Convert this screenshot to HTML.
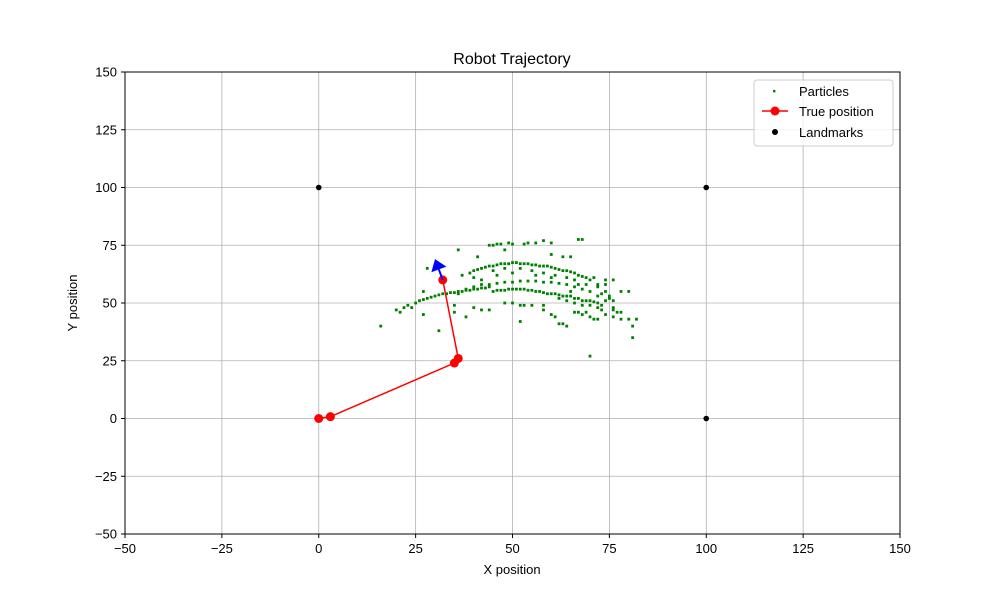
<!DOCTYPE html>
<html><head><meta charset="utf-8"><style>
body{margin:0;background:#fff}
svg{font-family:"Liberation Sans","DejaVu Sans",sans-serif}
</style></head><body>
<svg id="chart" width="1000" height="600" xmlns="http://www.w3.org/2000/svg">
<rect width="1000" height="600" fill="#fff"/>
<text x="512" y="64" text-anchor="middle" font-size="16">Robot Trajectory</text>
<g id="grid"></g>
<g id="marks"></g>
<rect x="125" y="72" width="775" height="462" fill="none" stroke="#000" stroke-width="1"/>
<g id="ticks" font-size="13"></g>
<text x="512" y="574" text-anchor="middle" font-size="13">X position</text>
<text x="77" y="303" text-anchor="middle" font-size="13" transform="rotate(-90 77 303)">Y position</text>
<g>
<rect x="754" y="80" width="139" height="66" rx="3" fill="#fff" fill-opacity="0.8" stroke="#ccc"/>
<g><rect x="773" y="90" width="2.4" height="2.4" fill="#008000"/><text x="799" y="96" font-size="13">Particles</text></g>
<g><line x1="762" y1="111" x2="788" y2="111" stroke="#f00" stroke-width="1.5"/><circle cx="775" cy="111" r="4.5" fill="#f00"/><text x="799" y="116" font-size="13">True position</text></g>
<g><circle cx="775" cy="132" r="3" fill="#000"/><text x="799" y="137" font-size="13">Landmarks</text></g>
</g>
</svg>
<script>
const xTicks=[-50,-25,0,25,50,75,100,125,150];
const yTicks=[-50,-25,0,25,50,75,100,125,150];
const trueX=[0,3,35,36,32];
const trueY=[0,0.8,24,26,60];
const headingStart=[32,60];
const headingEnd=[30,69];
const landmarkX=[0,100,100];
const landmarkY=[100,100,0];
const particleX=[16,21,22,23,25,26,27,28,29,30,31,32,33,34,35,36,37,38,39,40,41,42,43,44,45,46,47,48,49,50,51,52,53,54,55,56,57,58,59,60,61,62,63,64,65,66,67,68,69,70,71,72,73,
36,38,40,42,44,46,48,50,52,54,56,58,60,62,64,66,68,70,72,74,76,77,78,
37,39,40,41,42,43,44,45,46,47,48,49,50,51,52,53,54,55,56,57,58,59,60,61,62,63,64,65,66,67,68,69,70,72,74,75,76,
45,48,52,55,58,61,64,66,50,46,42,40,56,60,
44,45,46,47,49,50,53,54,56,58,60,67,68,36,41,48,60,63,65,
27,31,38,40,42,44,48,50,52,53,55,58,60,61,62,63,64,66,67,68,70,71,72,74,76,78,80,81,82,81,70,52,58,69,73,76,35,35,20,24,28,27,62,64,66,68,70,72,75,78,80,72,74,76,74,71,69,67,65,73];
const particleY=[40,46,48,49,50,51,51.5,52,52.5,53,53.5,54,54,54.5,54.5,55,55,55.5,55.5,56,56,56.5,56.5,57,55,55.5,55.5,55.5,56,56,56,56,56,55.5,55.5,55,55,54.5,54,54,54,53.5,53,53,53,52,52,51,51,51,50.5,50,49,
54,56,57,58,58,58.5,59,59,59.5,59.5,59.5,59,59,58.5,58,57,56,55,53,51,48,46,46,
62,63,64,64.5,65,65.5,66,66,66.5,67,67,67,67.5,67.5,67,67,67,66.5,66.5,66,66,66,65.5,65,64.5,64,64,63.5,63,62,61.5,61,60,58,55,53,51,
64,65,65,64,63,62,61,60,63,62,60,61,62,61,
75,75,75.5,75.5,76,75.5,75.5,76,76,77,76,77.5,77.5,73,70,73,71,70,70,
45,38,44,48,47,47,50,50,49,49,49,47,45,44,41,41,40,46,46,45,44,43,43,45,44,43,43,40,43,35,27,42,49,46,47,47,49,46,47,48,65,55,52,51,50,49,49,48,52,55,55,57,58,60,60,61,58,58,55,54];

const NS="http://www.w3.org/2000/svg";
function sx(v){return 125+(v+50)*775/200;}
function sy(v){return 534-(v+50)*462/200;}
function fmt(v){return v<0?'\u2212'+Math.abs(v):String(v);}
function mk(t,a,p){const e=document.createElementNS(NS,t);for(const k in a)e.setAttribute(k,a[k]);p.appendChild(e);return e;}
const grid=document.getElementById('grid'),ticks=document.getElementById('ticks'),marks=document.getElementById('marks');
xTicks.forEach(v=>{
 const l=mk('line',{x1:sx(v),x2:sx(v),y1:72,y2:534,stroke:'#b0b0b0','stroke-width':0.8},grid);
 
 
 mk('line',{x1:sx(v),x2:sx(v),y1:534,y2:538,stroke:'#000'},ticks);
 const t=mk('text',{x:sx(v),y:553,'text-anchor':'middle'},ticks);t.textContent=fmt(v);
 
 
});
yTicks.forEach(v=>{
 const l=mk('line',{x1:125,x2:900,y1:sy(v),y2:sy(v),stroke:'#b0b0b0','stroke-width':0.8},grid);
 
 
 mk('line',{x1:121,x2:125,y1:sy(v),y2:sy(v),stroke:'#000'},ticks);
 const t=mk('text',{x:117,y:sy(v)+4.5,'text-anchor':'end'},ticks);t.textContent=fmt(v);
 
 
});
particleX.forEach((x,i)=>{
 const r=mk('rect',{x:sx(x)-1.4,y:sy(particleY[i])-1.4,width:2.8,height:2.8,fill:'#008000'},marks);
 
 
});
const pts=trueX.map((x,i)=>sx(x)+','+sy(trueY[i])).join(' ');
const pl=mk('polyline',{points:pts,fill:'none',stroke:'#f00','stroke-width':1.5},marks);


trueX.forEach((x,i)=>{
 const c=mk('circle',{cx:sx(x),cy:sy(trueY[i]),r:4.5,fill:'#f00'},marks);
 
 
});
landmarkX.forEach((x,i)=>{
 const c=mk('circle',{cx:sx(x),cy:sy(landmarkY[i]),r:2.8,fill:'#000'},marks);
 
 
});
const x0=sx(headingStart[0]),y0=sy(headingStart[1]),x1=sx(headingEnd[0]),y1=sy(headingEnd[1]);
const dx=x1-x0,dy=y1-y0,L=Math.hypot(dx,dy),ux=dx/L,uy=dy/L;
const bx=x1-ux*11,by=y1-uy*11;
const sh=mk('line',{x1:x0,y1:y0,x2:bx,y2:by,stroke:'#00f','stroke-width':2},marks);


const hd=mk('polygon',{points:`${x1},${y1} ${bx-uy*8},${by+ux*8} ${bx+uy*8},${by-ux*8}`,fill:'#00f'},marks);


</script>
</body></html>
